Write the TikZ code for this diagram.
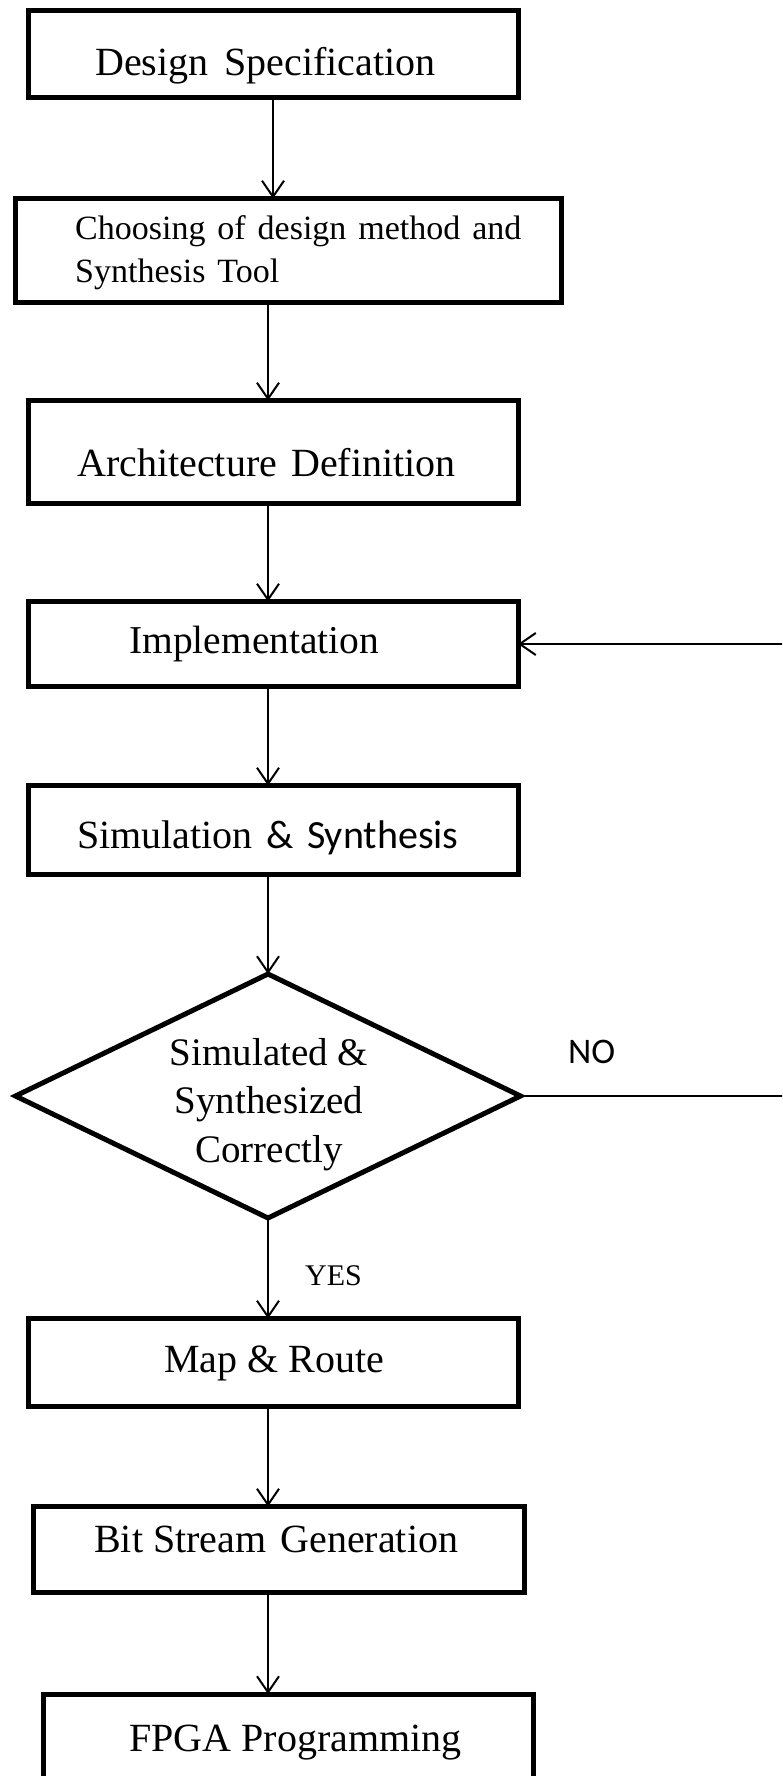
\documentclass[tikz,border=0pt]{standalone}
\usepackage{fontspec}
\setmainfont{Liberation Serif}
\newfontfamily\calib{Carlito}
\usetikzlibrary{arrows.meta,shapes.geometric}
\tikzset{
  box/.style={draw, rectangle, line width=5pt, inner sep=0pt, outer sep=0pt},
  decision/.style={draw, diamond, line width=5pt, inner sep=0pt, outer sep=0pt},
  arr/.style={line width=2pt, -{Straight Barb[length=16pt,width=22pt]}},
  plain/.style={line width=2pt},
  txt/.style={anchor=base west, inner sep=0pt},
  ctxt/.style={anchor=base, inner sep=0pt},
}
\begin{document}
\begin{tikzpicture}[x=1pt,y=-1pt]
\clip (0,0) rectangle (782,1776);
\fill[white] (0,0) rectangle (782,1776);
% boxes
\node[box, minimum width=490pt, minimum height=87pt] (b1) at (273,54.5) {};
\node[box, minimum width=546pt, minimum height=104pt] (b2) at (288,250.5) {};
\node[box, minimum width=490pt, minimum height=103pt] (b3) at (273,452) {};
\node[box, minimum width=490pt, minimum height=85pt] (b4) at (273,644) {};
\node[box, minimum width=490pt, minimum height=89pt] (b5) at (273,830) {};
\node[decision, minimum width=505pt, minimum height=244pt] (d) at (268,1096) {};
\node[box, minimum width=490pt, minimum height=88pt] (b6) at (273,1362.5) {};
\node[box, minimum width=491pt, minimum height=86pt] (b7) at (278.5,1549.5) {};
\node[box, minimum width=490pt, minimum height=100pt] (b8) at (288,1744) {};
% texts
\node[txt, font=\fontsize{40}{48}\selectfont] (t1) at (95,76) {Design\hspace{0.15em} Specification};
\node[txt, font=\fontsize{34}{43}\selectfont] (t2a) at (75,240) {Choosing\hspace{0.1em} of\hspace{0.1em} design\hspace{0.1em} method\hspace{0.1em} and};
\node[txt, font=\fontsize{34}{43}\selectfont] (t2b) at (75,283) {Synthesis\hspace{0.1em} Tool};
\node[txt, font=\fontsize{40}{48}\selectfont] (t3) at (77,476) {Architecture\hspace{0.1em} Definition};
\node[txt, font=\fontsize{39.5}{47}\selectfont] (t4) at (129,653) {Implementation};
\node[txt, font=\fontsize{40}{48}\selectfont] (t5) at (77,848) {Simulation\hspace{0.1em} {\calib\&\hspace{0.1em} Synthesis}};
\node[ctxt, font=\fontsize{39}{47}\selectfont] (dt1) at (269,1065) {Simulated \&};
\node[ctxt, font=\fontsize{39}{47}\selectfont] (dt2) at (269,1113) {Synthesized};
\node[ctxt, font=\fontsize{39}{47}\selectfont] (dt3) at (269,1162) {Correctly};
\node[txt, font=\fontsize{40}{48}\selectfont] (t6) at (164,1372) {Map \& Route};
\node[txt, font=\fontsize{40}{48}\selectfont] (t7) at (94,1552) {Bit Stream\hspace{0.1em} Generation};
\node[txt, font=\fontsize{40}{48}\selectfont] (t8) at (129,1751) {FPGA Programming};
\node[txt, font=\fontsize{30}{36}\selectfont] (yes) at (305,1285) {YES};
\node[txt, font=\calib\fontsize{36}{43}\selectfont] (no) at (568,1063) {NO};
% connectors
\coordinate (c2) at (268,0);
\draw[arr] (b1.south) -- (b1.south |- b2.north);
\draw[arr] (b2.south -| c2) -- (c2 |- b3.north);
\draw[arr] (b3.south -| c2) -- (c2 |- b4.north);
\draw[arr] (b4.south -| c2) -- (c2 |- b5.north);
\draw[arr] (b5.south -| c2) -- (d.north);
\draw[arr] (d.south) -- (d.south |- b6.north);
\draw[arr] (b6.south -| c2) -- (c2 |- b7.north);
\draw[arr] (b7.south -| c2) -- (c2 |- b8.north);
\coordinate (fb) at (790,644);
\coordinate (nr) at (790,1096);
\draw[arr] (fb) -- (b4.east);
\draw[plain] (d.east) -- (nr);
\end{tikzpicture}
\end{document}
